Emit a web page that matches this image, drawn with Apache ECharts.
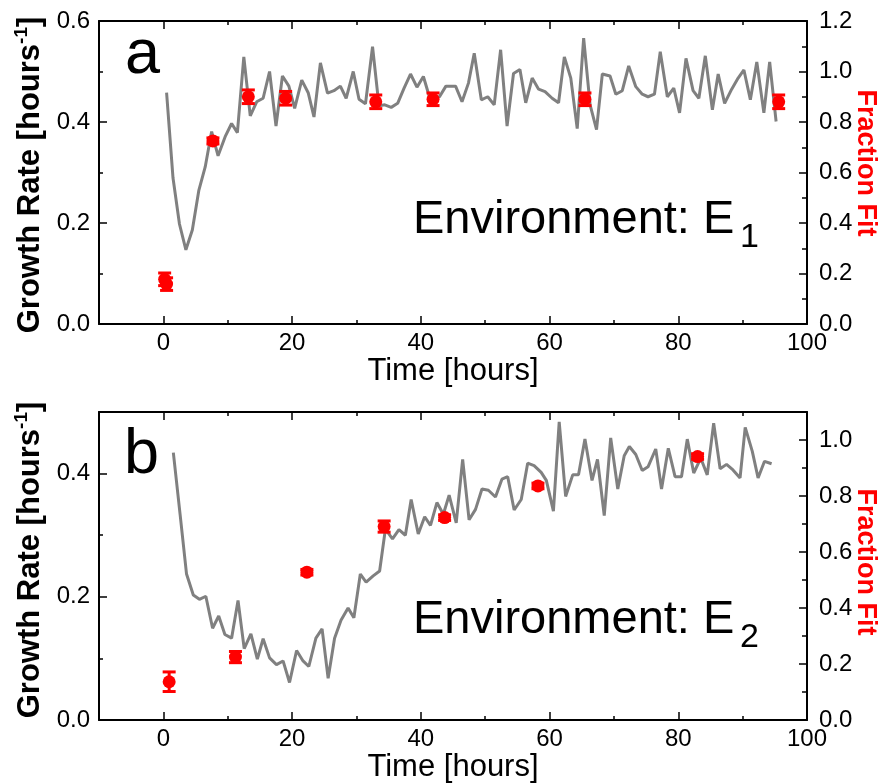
<!DOCTYPE html>
<html>
<head>
<meta charset="utf-8">
<script src="https://cdn.jsdelivr.net/npm/echarts@6/dist/echarts.min.js"></script>
<style>html,body{margin:0;padding:0;background:#fff}#c{width:887px;height:784px}</style>
</head>
<body>
<div id="c"></div>
<script>
// ---------- data ----------
const topTime = [0.5,1.5,2.5,3.5,4.5,5.5,6.5,7.5,8.5,9.6,10.6,11.5,12.5,13.5,14.5,15.5,16.5,17.5,18.5,19.5,20.4,21.5,22.5,23.4,24.4,25.5,26.5,27.5,28.4,29.5,30.4,31.4,32.5,33.5,34.4,35.4,36.4,37.4,38.4,39.4,40.4,41.4,42.9,43.9,45.4,46.4,47.4,48.3,49.4,50.4,51.4,52.4,53.4,54.4,55.4,56.3,57.3,58.3,59.3,60.4,61.4,62.3,63.3,64.3,65.3,66.3,67.3,68.2,69.4,70.3,71.3,72.3,73.4,74.4,75.3,76.3,77.2,78.3,79.3,80.2,81.2,82.3,83.2,84.2,85.3,86.2,87.2,88.3,89.3,90.2,91.2,92.2,93.3,94.2,95.2];
const topGrowth = [0.458,0.289,0.198,0.147,0.186,0.264,0.311,0.381,0.333,0.371,0.397,0.379,0.529,0.412,0.440,0.447,0.500,0.392,0.491,0.471,0.427,0.483,0.458,0.410,0.517,0.457,0.462,0.471,0.447,0.500,0.445,0.436,0.549,0.432,0.434,0.429,0.437,0.467,0.495,0.469,0.490,0.447,0.450,0.471,0.471,0.440,0.477,0.536,0.444,0.450,0.434,0.543,0.392,0.496,0.504,0.438,0.487,0.465,0.460,0.447,0.438,0.529,0.487,0.387,0.566,0.434,0.385,0.495,0.491,0.455,0.462,0.511,0.470,0.455,0.450,0.455,0.539,0.450,0.467,0.418,0.526,0.462,0.447,0.531,0.424,0.495,0.437,0.465,0.487,0.503,0.444,0.519,0.418,0.519,0.401];
const topFitTime = [0.2,0.5,7.7,13.2,19.0,33.0,41.9,65.5,95.6];
const topFit = [0.177,0.158,0.725,0.900,0.894,0.880,0.890,0.890,0.880];
const topFitErr = [0.025,0.025,0.012,0.027,0.027,0.027,0.025,0.025,0.027];

const botTime = [1.55,2.6,3.6,4.65,5.6,6.6,7.65,8.6,9.56,10.6,11.6,12.56,13.6,14.6,15.5,16.5,17.57,18.6,19.6,20.7,21.7,22.6,23.7,24.66,25.6,26.6,27.6,28.7,29.6,30.6,31.5,32.6,33.6,34.5,35.6,36.6,37.6,38.5,39.6,40.6,41.5,42.5,43.5,44.4,45.5,46.5,47.5,48.5,49.5,50.5,51.6,52.6,53.5,54.5,55.6,56.6,57.6,58.7,59.5,60.6,61.5,62.5,63.6,64.5,65.5,66.6,67.45,68.5,69.5,70.6,71.6,72.4,73.4,74.4,75.3,76.5,77.4,78.45,79.5,80.5,81.4,82.4,83.5,84.5,85.5,86.5,87.5,88.5,89.6,90.4,91.5,92.4,93.4,94.5];
const botGrowth = [0.434,0.334,0.237,0.203,0.196,0.201,0.149,0.169,0.139,0.133,0.194,0.116,0.140,0.099,0.132,0.101,0.090,0.096,0.061,0.113,0.096,0.087,0.133,0.148,0.068,0.133,0.162,0.182,0.166,0.237,0.224,0.234,0.242,0.310,0.294,0.309,0.300,0.358,0.302,0.330,0.316,0.353,0.334,0.365,0.320,0.423,0.325,0.342,0.375,0.373,0.362,0.391,0.395,0.341,0.358,0.417,0.413,0.402,0.389,0.339,0.484,0.363,0.398,0.398,0.456,0.389,0.423,0.332,0.458,0.375,0.429,0.444,0.431,0.405,0.411,0.440,0.375,0.441,0.395,0.395,0.456,0.401,0.425,0.398,0.482,0.408,0.415,0.406,0.393,0.475,0.436,0.393,0.420,0.416];
const botFitTime = [0.9,11.2,22.3,34.3,43.7,58.2,83.0];
const botFit = [0.137,0.225,0.528,0.691,0.723,0.836,0.941];
const botFitErr = [0.035,0.02,0.01,0.02,0.01,0.01,0.01];

const xMajor = [0,20,40,60,80,100];
const xMinor = [10,30,50,70,90];
const topLeftMajor = [0,0.2,0.4,0.6];
const topLeftMinor = [0.1,0.3,0.5];
const topRightMajor = [0,0.2,0.4,0.6,0.8,1.0,1.2];
const topRightMinor = [0.1,0.3,0.5,0.7,0.9,1.1];
const botLeftMajor = [0,0.2,0.4];
const botLeftMinor = [0.1,0.3,0.5];
const botRightMajor = [0,0.2,0.4,0.6,0.8,1.0];
const botRightMinor = [0.1,0.3,0.5,0.7,0.9,1.1];

// ---------- chart ----------
const FONT = "'Liberation Sans', Arial, sans-serif";
const chart = echarts.init(document.getElementById('c'), null, {renderer: 'canvas'});

const grids = [
  {left: 99, top: 21, width: 708, height: 303},
  {left: 99, top: 412, width: 708, height: 310}
];

function xAxes(gi, nameGap) {
  const base = {gridIndex: gi, type: 'value', min: -10, max: 100, splitLine: {show: false}};
  const line = {show: true, onZero: false, lineStyle: {color: '#000', width: 2}};
  const tl = {color: '#000', width: 1.5};
  return [
    Object.assign({}, base, {position: 'bottom', axisLine: line,
      axisTick: {show: true, inside: true, length: 8, customValues: xMajor, lineStyle: tl},
      axisLabel: {show: true, customValues: xMajor, fontSize: 24, color: '#000', fontFamily: FONT, margin: 7},
      name: 'Time [hours]', nameLocation: 'middle', nameGap: nameGap,
      nameTextStyle: {fontSize: 31, color: '#000', fontFamily: FONT}}),
    Object.assign({}, base, {position: 'bottom', axisLine: {show: false, onZero: false},
      axisTick: {show: true, inside: true, length: 4, customValues: xMinor, lineStyle: tl},
      axisLabel: {show: false}}),
    Object.assign({}, base, {position: 'top', axisLine: line,
      axisTick: {show: true, inside: true, length: 8, customValues: xMajor, lineStyle: tl},
      axisLabel: {show: false}}),
    Object.assign({}, base, {position: 'top', axisLine: {show: false, onZero: false},
      axisTick: {show: true, inside: true, length: 4, customValues: xMinor, lineStyle: tl},
      axisLabel: {show: false}})
  ];
}

function yAxes(gi, lmax, lMaj, lMin, rmax, rMaj, rMin) {
  const line = {show: true, onZero: false, lineStyle: {color: '#000', width: 2}};
  const tl = {color: '#000', width: 1.5};
  const lab = (vals, margin) => ({show: true, customValues: vals, fontSize: 24, color: '#000', fontFamily: FONT, margin: margin, formatter: v => Number(v).toFixed(1)});
  return [
    {gridIndex: gi, type: 'value', min: 0, max: lmax, position: 'left', splitLine: {show: false}, axisLine: line,
      axisTick: {show: true, inside: true, length: 8, customValues: lMaj, lineStyle: tl}, axisLabel: lab(lMaj, 9)},
    {gridIndex: gi, type: 'value', min: 0, max: lmax, position: 'left', splitLine: {show: false}, axisLine: {show: false, onZero: false},
      axisTick: {show: true, inside: true, length: 4, customValues: lMin, lineStyle: tl}, axisLabel: {show: false}},
    {gridIndex: gi, type: 'value', min: 0, max: rmax, position: 'right', splitLine: {show: false}, axisLine: line,
      axisTick: {show: true, inside: true, length: 8, customValues: rMaj, lineStyle: tl}, axisLabel: lab(rMaj, 12)},
    {gridIndex: gi, type: 'value', min: 0, max: rmax, position: 'right', splitLine: {show: false}, axisLine: {show: false, onZero: false},
      axisTick: {show: true, inside: true, length: 5, customValues: rMin, lineStyle: tl}, axisLabel: {show: false}}
  ];
}

function zip(a, b, c) { return a.map((v, i) => c ? [v, b[i], c[i]] : [v, b[i]]); }

function errBar(params, api) {
  const x = api.value(0), y = api.value(1), e = api.value(2);
  const p1 = api.coord([x, y + e]);
  const p2 = api.coord([x, y - e]);
  const w = 6.5;
  const st = {stroke: '#ff0000', lineWidth: 3};
  return {type: 'group', children: [
    {type: 'line', shape: {x1: p1[0], y1: p1[1], x2: p2[0], y2: p2[1]}, style: st},
    {type: 'line', shape: {x1: p1[0] - w, y1: p1[1], x2: p1[0] + w, y2: p1[1]}, style: st},
    {type: 'line', shape: {x1: p2[0] - w, y1: p2[1], x2: p2[0] + w, y2: p2[1]}, style: st}
  ]};
}

function panelSeries(gi, t, g, ft, f, fe) {
  return [
    {type: 'line', xAxisIndex: gi * 4, yAxisIndex: gi * 4, data: zip(t, g), showSymbol: false, symbol: 'none',
      lineStyle: {color: '#808080', width: 3}, itemStyle: {color: '#808080'}, z: 2, silent: true, animation: false},
    {type: 'custom', xAxisIndex: gi * 4, yAxisIndex: gi * 4 + 2, data: zip(ft, f, fe), renderItem: errBar,
      encode: {x: 0, y: 1}, z: 3, silent: true, animation: false},
    {type: 'scatter', xAxisIndex: gi * 4, yAxisIndex: gi * 4 + 2, data: zip(ft, f), symbol: 'circle', symbolSize: 13,
      itemStyle: {color: '#ff0000', opacity: 1}, z: 4, silent: true, animation: false}
  ];
}

const growthRich = {
  n: {fontSize: 31, fontWeight: 'bold', color: '#808080', fontFamily: FONT, lineHeight: 36},
  s: {fontSize: 19, fontWeight: 'bold', color: '#808080', fontFamily: FONT, lineHeight: 22, verticalAlign: 'top'}
};

function txt(text, x, y, size, opts) {
  return Object.assign({type: 'text', x: x, y: y, silent: true,
    style: {text: text, fontSize: size, fontFamily: FONT, fill: '#000', align: 'left', verticalAlign: 'middle'}}, opts || {});
}

const option = {
  animation: false,
  backgroundColor: '#fff',
  grid: grids,
  xAxis: [].concat(xAxes(0, 30), xAxes(1, 28)),
  yAxis: [].concat(
    yAxes(0, 0.6, topLeftMajor, topLeftMinor, 1.2, topRightMajor, topRightMinor),
    yAxes(1, 0.5, botLeftMajor, botLeftMinor, 1.1, botRightMajor, botRightMinor)),
  series: [].concat(
    panelSeries(0, topTime, topGrowth, topFitTime, topFit, topFitErr),
    panelSeries(1, botTime, botGrowth, botFitTime, botFit, botFitErr)),
  graphic: [
    txt('a', 125, 55.5, 63),
    txt('b', 124, 455.5, 63),
    txt('Environment: E', 413, 220.4, 47),
    txt('1', 740, 237.8, 34),
    txt('Environment: E', 413, 620.4, 47),
    txt('2', 740, 637.8, 34),
    {type: 'text', x: 30, y: 175, rotation: Math.PI / 2, silent: true,
      style: {text: '{n|Growth Rate [hours}{s|-1}{n|]}', rich: growthRich, align: 'center', verticalAlign: 'middle'}},
    {type: 'text', x: 30, y: 560, rotation: Math.PI / 2, silent: true,
      style: {text: '{n|Growth Rate [hours}{s|-1}{n|]}', rich: growthRich, align: 'center', verticalAlign: 'middle'}},
    {type: 'text', x: 865.5, y: 163, rotation: -Math.PI / 2, silent: true,
      style: {text: 'Fraction Fit', fontSize: 27, fontWeight: 'bold', fill: '#ff0000', fontFamily: FONT, align: 'center', verticalAlign: 'middle'}},
    {type: 'text', x: 865.5, y: 562, rotation: -Math.PI / 2, silent: true,
      style: {text: 'Fraction Fit', fontSize: 27, fontWeight: 'bold', fill: '#ff0000', fontFamily: FONT, align: 'center', verticalAlign: 'middle'}}
  ]
};
chart.setOption(option);
</script>
</body>
</html>
